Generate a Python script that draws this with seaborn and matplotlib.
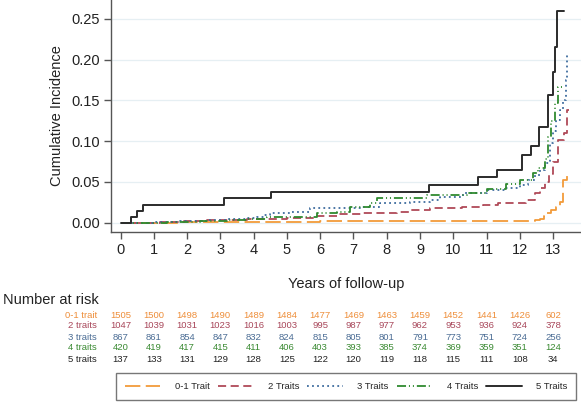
import matplotlib
matplotlib.use("Agg")
import matplotlib.pyplot as plt
import numpy as np
import pandas as pd
import seaborn as sns

# step points (time in years, cumulative incidence)
t_0_1 = [0, 1.8, 3.5, 6.0, 9.5, 12.45, 12.6, 12.72, 12.82, 12.95, 13.1, 13.22, 13.29, 13.31, 13.41, 13.53]
ci_0_1 = [0, 0.0007, 0.0013, 0.002, 0.0027, 0.0035, 0.005, 0.008, 0.0115, 0.015, 0.0196, 0.025, 0.030, 0.052, 0.0577, 0.0577]

t_2 = [0, 1.2, 1.9, 2.6, 3.2, 3.8, 4.3, 5.0, 5.9, 6.5, 7.3, 7.8, 8.3, 8.7, 9.3, 10.25, 10.9, 11.35,
       12.19, 12.46, 12.6, 12.76, 12.88, 12.99, 13.16, 13.33, 13.43, 13.47]
ci_2 = [0, 0.001, 0.002, 0.003, 0.0035, 0.004, 0.005, 0.006, 0.0082, 0.0103, 0.0115, 0.0123, 0.0135, 0.0156,
        0.0176, 0.0196, 0.022, 0.0245, 0.028, 0.037, 0.042, 0.050, 0.060, 0.075, 0.101, 0.110, 0.138, 0.138]

t_3 = [0, 1.0, 1.8, 2.6, 3.2, 3.8, 4.1, 4.3, 4.5, 5.1, 5.7, 7.2, 7.8, 8.7, 9.3, 9.6, 10.3, 11.0, 11.6, 12.0,
       12.25, 12.46, 12.6, 12.76, 12.9, 13.0, 13.1, 13.2, 13.3, 13.39, 13.41, 13.43]
ci_3 = [0, 0.001, 0.002, 0.003, 0.004, 0.0054, 0.0074, 0.0095, 0.0115, 0.0135, 0.0176, 0.0196, 0.024, 0.026,
        0.028, 0.032, 0.036, 0.040, 0.043, 0.046, 0.052, 0.0585, 0.065, 0.073, 0.0975, 0.112, 0.126, 0.138,
        0.150, 0.175, 0.208, 0.208]

t_4 = [0, 1.4, 2.4, 3.2, 3.8, 4.4, 5.9, 6.5, 6.9, 7.5, 7.7, 9.2, 10.4, 11.0, 11.6, 12.0, 12.4, 12.56,
       12.76, 12.86, 12.95, 13.06, 13.16, 13.26]
ci_4 = [0, 0.001, 0.002, 0.003, 0.005, 0.0066, 0.0115, 0.0135, 0.0196, 0.024, 0.030, 0.034, 0.0368, 0.041,
        0.047, 0.052, 0.0606, 0.0668, 0.078, 0.1055, 0.125, 0.1465, 0.166, 0.166]

t_5 = [0, 0.31, 0.49, 0.69, 3.11, 4.51, 9.27, 10.75, 11.33, 12.08, 12.33, 12.59, 12.86, 12.99, 13.06, 13.13, 13.33]
ci_5 = [0, 0.0073, 0.0146, 0.022, 0.030, 0.0377, 0.046, 0.0557, 0.0647, 0.083, 0.094, 0.118, 0.157, 0.185,
        0.216, 0.260, 0.260]

risk_years = list(range(14))
risk_labels = ["0-1 trait", "2 traits", "3 traits", "4 traits", "5 traits"]
risk_0_1 = [1505, 1500, 1498, 1490, 1489, 1484, 1477, 1469, 1463, 1459, 1452, 1441, 1426, 602]
risk_2 = [1047, 1039, 1031, 1023, 1016, 1003, 995, 987, 977, 962, 953, 936, 924, 378]
risk_3 = [867, 861, 854, 847, 832, 824, 815, 805, 801, 791, 773, 751, 724, 256]
risk_4 = [420, 419, 417, 415, 411, 406, 403, 393, 385, 374, 369, 359, 351, 124]
risk_5 = [137, 133, 131, 129, 128, 125, 122, 120, 119, 118, 115, 111, 108, 34]

legend_labels = ["0-1 Trait", "2 Traits", "3 Traits", "4 Traits", "5 Traits"]
line_colors = ["#F29B3A", "#B04A58", "#3E6C9E", "#2F8A2F", "#2B2B2B"]
text_colors = ["#EE8E3A", "#A8475A", "#4A6C94", "#3A8A32", "#222222"]
line_styles = [(0, (8.5, 3)), (0, (4.5, 2.5)), (0, (1, 1.8)), (0, (5, 1.6, 0.6, 1.6, 0.6, 1.6)), "-"]

sns.set_style("ticks")
plt.rcParams["font.family"] = ["Liberation Sans", "DejaVu Sans"]

W, H = 581, 405
fig = plt.figure(figsize=(W / 100, H / 100), dpi=100)
ax = fig.add_axes([111 / W, 1 - 232 / H, 1 - 111 / W, 232 / H])

curves = [(t_0_1, ci_0_1), (t_2, ci_2), (t_3, ci_3), (t_4, ci_4), (t_5, ci_5)]
for (t, ci), lab, col, ls in zip(curves, legend_labels, line_colors, line_styles):
    df = pd.DataFrame({"years": t, "ci": ci})
    sns.lineplot(data=df, x="years", y="ci", ax=ax, estimator=None, drawstyle="steps-post",
                 color=col, linestyle=ls, linewidth=1.3 if ls != "-" else 1.4, label=lab)

ax.set_xlim(-0.286, 13.84)
ax.set_ylim(-0.0114, 0.2733)
ax.set_xticks(range(14))
ax.set_yticks([0, 0.05, 0.10, 0.15, 0.20, 0.25])
ax.set_yticklabels(["0.00", "0.05", "0.10", "0.15", "0.20", "0.25"])
ax.yaxis.grid(True, color="#E6EFF3", linewidth=0.9)
ax.set_axisbelow(True)
sns.despine(ax=ax)
for s in ["left", "bottom"]:
    ax.spines[s].set_color("#555555")
    ax.spines[s].set_linewidth(1.0)
ax.tick_params(axis="both", labelsize=10.5, colors="#555555", labelcolor="#222222", length=5, width=1.0, pad=3)
ax.set_ylabel("Cumulative Incidence", fontsize=10.5, color="#222222", labelpad=5)
ax.set_xlabel("Years of follow-up", fontsize=10.5, color="#222222", labelpad=14)
ax.get_legend().remove()

# number at risk table
fig.text(3 / W, 1 - 300 / H, "Number at risk", fontsize=10.5, va="center", ha="left", color="#222222")
risk_rows = [risk_0_1, risk_2, risk_3, risk_4, risk_5]
row_y = [315, 326, 337, 348, 360]
for lab, vals, col, py in zip(risk_labels, risk_rows, text_colors, row_y):
    yf = 1 - py / H
    fig.text(97 / W, yf, lab, fontsize=6.8, ha="right", va="center", color=col)
    for yr, v in zip(risk_years, vals):
        xf = ax.transData.transform((yr, 0))[0] / W
        fig.text(xf, yf, str(v), fontsize=6.8, ha="center", va="center", color=col)

handles, labels = ax.get_legend_handles_labels()
leg = fig.legend(handles, labels, loc="center", bbox_to_anchor=(346 / W, 1 - 386.5 / H), ncol=5,
                 fontsize=6.8, frameon=True, fancybox=False, handlelength=3.8, handletextpad=1.5,
                 columnspacing=0.85, borderpad=0.95, borderaxespad=0, edgecolor="#555555")
leg.get_frame().set_linewidth(1.0)

fig.savefig("out.png", dpi=100)
